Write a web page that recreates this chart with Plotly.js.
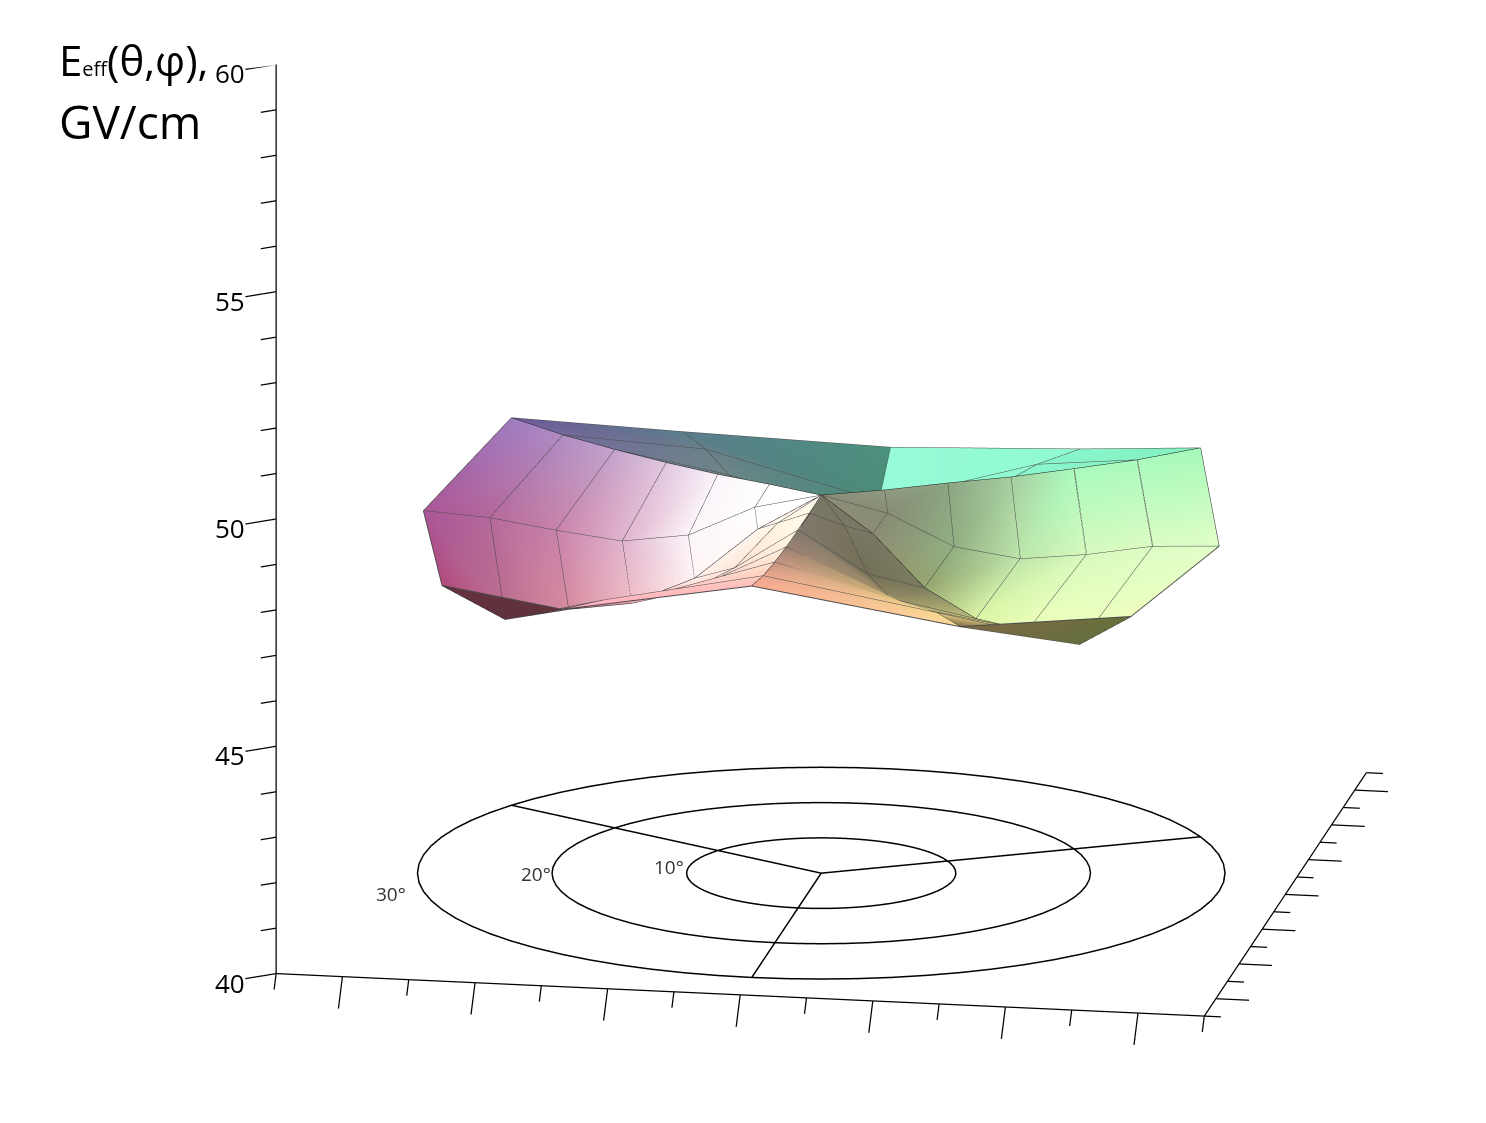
<!DOCTYPE html>
<html>
<head>
<meta charset="utf-8">
<script src="https://cdn.plot.ly/plotly-3.0.1.min.js"></script>
<style>
  html, body { margin: 0; padding: 0; background: #fff; }
  #plotly_graph { width: 1486px; height: 1123px; }
</style>
</head>
<body>
<div id="plotly_graph"></div>
<script>
// ************************************************************************
// DATA: Eeff (GV/cm), one list per phi spoke

const THETA_RINGS = [0, 5, 10, 15, 20, 25, 30]
const PHI_SPOKES = [0, 30, 60, 90, 120, 150, 180, 210, 240, 270, 300, 330]

const EEFF_000 = [48.31, 47.98, 47.31, 47.11, 47.27, 47.52, 47.59]
const EEFF_030 = [48.31, 48.29, 48.31, 48.31, 48.36, 48.42, 48.55]
const EEFF_060 = [48.31, 47.98, 47.31, 47.11, 47.27, 47.50, 47.54]
const EEFF_090 = [48.31, 47.71, 46.76, 46.34, 46.33, 46.27, 47.07]
const EEFF_120 = [48.31, 48.00, 47.31, 47.13, 47.30, 47.50, 47.52]
const EEFF_150 = [48.31, 48.30, 48.27, 48.28, 48.32, 48.39, 48.52]
const EEFF_180 = [48.31, 47.98, 47.30, 47.10, 47.27, 47.48, 47.57]
const EEFF_210 = [48.31, 47.70, 46.75, 46.34, 46.34, 46.25, 47.13]
const EEFF_240 = [48.31, 48.00, 47.31, 47.12, 47.28, 47.50, 47.59]
const EEFF_270 = [48.31, 48.30, 48.31, 48.32, 48.37, 48.45, 48.61]
const EEFF_300 = [48.31, 48.00, 47.31, 47.13, 47.30, 47.55, 47.61]
const EEFF_330 = [48.31, 47.71, 46.77, 46.34, 46.33, 46.28, 47.14]

const EEFF = [EEFF_000, EEFF_030, EEFF_060, EEFF_090, EEFF_120, EEFF_150,
              EEFF_180, EEFF_210, EEFF_240, EEFF_270, EEFF_300, EEFF_330]

const Z_TICK_LABELS = [40, 45, 50, 55, 60]
const GRID_RINGS = [10, 20, 30]
const GRID_SPOKES = [30, 150, 270]
const RIDGE_SPOKES = [30, 150, 210, 270, 330]
const RING_LABELS = ['10°', '20°', '30°']
const RING_LABEL_X = [-11.5, -20.8, -30.5]
const RING_LABEL_Y = [-0.1, -4.0, -11.2]

// ************************************************************************
// Colours of each sector: [start spoke, end spoke], centre to rim

const SECTOR_COLORS = [
    [['#8c8c78','#878c73','#91af82','#bee6aa','#d7fabe','#dcfcc4','#e1ffc8'],
     ['#828270','#919b82','#8ca582','#a5cda0','#aafabe','#aafabe','#a5fab9']],
    [['#8cf5ca','#8cf5ca','#8cf5ca','#8cf5ca','#8cf5ca','#86f2c2','#82f0be'],
     ['#88f5cc','#88f5cc','#88f5cc','#88f5cc','#88f5cc','#88f5cc','#88f5cc']],
    [['#90fad0','#90fad0','#90fad0','#90fad0','#90fad0','#90fad0','#90fad0'],
     ['#96fcd8','#96fcd8','#96fcd8','#96fcd8','#96fcd8','#96fcd8','#96fcd8']],
    [['#4b8c78','#4b8c78','#4b8c78','#4b8c78','#4b8c78','#4b8c78','#4b917d'],
     ['#559480','#5f9580','#6a8f80','#6e8a85','#6e8787','#69808a','#5a7d8c']],
    [['#559480','#5f9580','#6a8f80','#6e8a85','#6e8787','#69808a','#5a7d8c'],
     ['#559480','#5f9080','#6e8c8c','#758590','#787896','#73699a','#6e5a9b']],
    [['#ffffff','#ffffff','#faf5fa','#e1c8e1','#c3a5cd','#b08cc4','#a07cc0'],
     ['#ffffff','#ffffff','#fcf5fa','#e1b4cd','#c882aa','#b4699b','#aa5596']],
    [['#ffffff','#ffffff','#fcf5fa','#e1b4cd','#c882aa','#b4699b','#aa5596'],
     ['#ffffff','#fffdfb','#fff5f5','#f0bec8','#d78ca0','#be6e8c','#b24b7d']],
    [['#fff8f0','#fff8f0','#fff0ea','#f0a0b0','#a06070','#5f323c','#64323f'],
     ['#fff8e8','#fff8e8','#ffe6d8','#ffcdcd','#ffc3c8','#e8a0b0','#5f323c']],
    [['#fffaeb','#fff5e1','#ffe1d2','#ffcdcd','#ffc3c8','#ffb9c3','#ffaabe'],
     ['#fffaeb','#fffaeb','#fff8e6','#fff0dc','#ffe1cd','#ffcdbe','#ffbeb9']],
    [['#787864','#7d7869','#82786e','#9c8272','#c89682','#eca78f','#fbaa91'],
     ['#787864','#78735f','#737055','#a59068','#d7be78','#f5d68c','#ffdc9b']],
    [['#787864','#787864','#737055','#968c64','#d2be78','#e6c882','#7d6946'],
     ['#787864','#787864','#7d7d5f','#bec37d','#c8c87d','#646e3c','#696f3c']],
    [['#8c8c78','#8c8c73','#96a56e','#dcf5a5','#edffb9','#f0ffbc','#f0ffbe'],
     ['#8c8c78','#878c73','#91af82','#bee6aa','#d7fabe','#dcfcc4','#e1ffc8']]
]

// sectors that end on a valley spoke get the other cell diagonal
const END_ON_VALLEY = [60, 180, 300]

const AXIS_MIN = -35
const AXIS_MAX = 35
const Z_MIN = 40
const Z_MAX = 60

// the scene range is wider than the drawn axes, or the ticks get clipped
const SCENE_HALF = 45
// orthographic zoom goes through the aspect ratio, not through the eye distance
const ZOOM = 1.678


// ************************************************************************
// Surface

const polarX = (r, phi) => r * Math.cos(phi * Math.PI / 180)
const polarY = (r, phi) => r * Math.sin(phi * Math.PI / 180)

let mx = [], my = [], mz = [], mi = [], mj = [], mk = [], mcolor = []

PHI_SPOKES.forEach((phi, s) => {
    let next = (s + 1) % PHI_SPOKES.length
    let base = mx.length
    let ringCount = THETA_RINGS.length

    for (let side = 0; side < 2; side++) {
        let sp = side === 0 ? s : next
        THETA_RINGS.forEach((r, j) => {
            mx.push(polarX(r, PHI_SPOKES[sp]))
            my.push(polarY(r, PHI_SPOKES[sp]))
            mz.push(EEFF[sp][j])
            mcolor.push(SECTOR_COLORS[s][side][j])
        })
    }

    for (let j = 0; j < ringCount - 1; j++) {
        let a0 = base + j, a1 = base + j + 1
        let b0 = base + ringCount + j, b1 = base + ringCount + j + 1
        if (END_ON_VALLEY.includes(phi)) {
            mi.push(a0, a1); mj.push(a1, b1); mk.push(b0, b0)
        } else {
            mi.push(a0, a0); mj.push(a1, b1); mk.push(b1, b0)
        }
    }
})

let surface = {
    type: 'mesh3d',
    x: mx, y: my, z: mz, i: mi, j: mj, k: mk,
    vertexcolor: mcolor,
    flatshading: false,
    lighting: { ambient: 1, diffuse: 0, specular: 0, roughness: 1, fresnel: 0 },
    hoverinfo: 'skip',
    showscale: false
}


// ************************************************************************
// Wireframe

let wx = [], wy = [], wz = []
let rx = [], ry = [], rz = []

const addWire = (r1, phi1, z1, r2, phi2, z2) => {
    wx.push(polarX(r1, phi1), polarX(r2, phi2), null)
    wy.push(polarY(r1, phi1), polarY(r2, phi2), null)
    wz.push(z1, z2, null)
}

PHI_SPOKES.forEach((phi, s) => {
    let next = (s + 1) % PHI_SPOKES.length
    THETA_RINGS.forEach((r, j) => {
        if (j > 0) {
            addWire(THETA_RINGS[j - 1], phi, EEFF[s][j - 1], r, phi, EEFF[s][j])
            addWire(r, phi, EEFF[s][j], r, PHI_SPOKES[next], EEFF[next][j])
        }
    })
    // the sharp creases come out darker
    if (RIDGE_SPOKES.includes(phi)) {
        THETA_RINGS.forEach((r, j) => {
            rx.push(polarX(r, phi)); ry.push(polarY(r, phi)); rz.push(EEFF[s][j])
        })
        rx.push(null); ry.push(null); rz.push(null)
    }
})

// silhouette edges of the two folds in front
addWire(25, 210, EEFF_210[5], 30, 240, EEFF_240[6])
addWire(25, 330, EEFF_330[5], 30, 300, EEFF_300[6])

let wire = {
    type: 'scatter3d', mode: 'lines',
    x: wx, y: wy, z: wz,
    line: { color: 'rgb(75,75,75)', width: 2 },
    hoverinfo: 'skip', showlegend: false
}

let ridges = {
    type: 'scatter3d', mode: 'lines',
    x: rx, y: ry, z: rz,
    line: { color: 'rgb(30,30,30)', width: 2 },
    hoverinfo: 'skip', showlegend: false
}


// ************************************************************************
// Floor grid: rings and spokes at the bottom of the box

let gx = [], gy = [], gz = []

GRID_RINGS.forEach(r => {
    for (let a = 0; a <= 360; a += 5) {
        gx.push(polarX(r, a)); gy.push(polarY(r, a)); gz.push(Z_MIN)
    }
    gx.push(null); gy.push(null); gz.push(null)
})

GRID_SPOKES.forEach(phi => {
    gx.push(0, polarX(30, phi), null)
    gy.push(0, polarY(30, phi), null)
    gz.push(Z_MIN, Z_MIN, null)
})

let floorGrid = {
    type: 'scatter3d', mode: 'lines',
    x: gx, y: gy, z: gz,
    line: { color: '#000', width: 3 },
    hoverinfo: 'skip', showlegend: false
}


// ************************************************************************
// Axis lines and ticks, the scene's own axes are switched off

let ax = [AXIS_MIN, AXIS_MAX, AXIS_MAX, null, AXIS_MIN, AXIS_MIN]
let ay = [AXIS_MIN, AXIS_MIN, AXIS_MAX, null, AXIS_MIN, AXIS_MIN]
let az = [Z_MIN, Z_MIN, Z_MIN, null, Z_MIN, Z_MAX]

const addTick = (x, y, z, dx, dy) => {
    ax.push(x, x + dx, null)
    ay.push(y, y + dy, null)
    az.push(z, z, null)
}

for (let v = AXIS_MIN; v <= AXIS_MAX; v += 5) {
    let k = (v % 10 === 0) ? 1 : 0.5
    addTick(v, AXIS_MIN, Z_MIN, 1.26 * k, -8.95 * k)
    addTick(AXIS_MAX, v, Z_MIN, 2.5 * k, 0)
}

for (let v = Z_MIN; v <= Z_MAX; v += 1) {
    let k = (v % 5 === 0) ? 1 : 0.5
    addTick(AXIS_MIN, AXIS_MIN, v, -2 * k, -1.8 * k)
}

let axes = {
    type: 'scatter3d', mode: 'lines',
    x: ax, y: ay, z: az,
    line: { color: '#000', width: 2.5 },
    hoverinfo: 'skip', showlegend: false
}

let data = [surface, wire, ridges, floorGrid, axes]


// ************************************************************************
// Layout

const hiddenAxis = (range) => ({
    range: range,
    autorange: false,
    visible: false,
    showgrid: false,
    zeroline: false,
    showline: false,
    showticklabels: false,
    showbackground: false,
    showspikes: false,
    title: { text: '' }
})

const TEXT_FONT = '"Open Sans", "Noto Sans", sans-serif'

let sceneNotes = Z_TICK_LABELS.map(z => ({
    x: AXIS_MIN, y: AXIS_MIN, z: z,
    text: String(z),
    showarrow: false,
    xanchor: 'center', yanchor: 'middle',
    xshift: -46, yshift: -9,
    font: { family: TEXT_FONT, size: 26, color: '#000' }
})).concat(RING_LABELS.map((t, n) => ({
    x: RING_LABEL_X[n], y: RING_LABEL_Y[n], z: Z_MIN,
    text: t,
    showarrow: false,
    xanchor: 'center', yanchor: 'middle',
    font: { family: TEXT_FONT, size: 19, color: '#333' }
})))

let layout = {
    width: 1486,
    height: 1123,
    margin: { t: 0, r: 0, b: 0, l: 0 },
    paper_bgcolor: '#fff',
    showlegend: false,
    scene: {
        domain: { x: [0, 1], y: [0, 1] },
        aspectmode: 'manual',
        aspectratio: {
            x: ZOOM * 2 * SCENE_HALF / (AXIS_MAX - AXIS_MIN),
            y: ZOOM * 2 * SCENE_HALF / (AXIS_MAX - AXIS_MIN),
            z: ZOOM
        },
        camera: {
            projection: { type: 'orthographic' },
            // the box sits up and right of the page centre
            center: { x: -0.1258, y: -0.0897, z: -0.2457 },
            up: { x: 0, y: 0, z: 1 },
            eye: { x: 0.1739, y: -1.8060, z: 0.2277 }
        },
        xaxis: hiddenAxis([-SCENE_HALF, SCENE_HALF]),
        yaxis: hiddenAxis([-SCENE_HALF, SCENE_HALF]),
        zaxis: hiddenAxis([Z_MIN, Z_MAX]),
        annotations: sceneNotes
    },
    annotations: [
        {
            xref: 'paper', yref: 'paper', x: 57 / 1486, y: 1 - 60 / 1123,
            xanchor: 'left', yanchor: 'middle', showarrow: false,
            text: 'E<span style="font-size:20px">eff</span>(θ,φ),',
            font: { family: TEXT_FONT, size: 42, color: '#000' }
        },
        {
            xref: 'paper', yref: 'paper', x: 57 / 1486, y: 1 - 121 / 1123,
            xanchor: 'left', yanchor: 'middle', showarrow: false,
            text: 'GV/cm',
            font: { family: TEXT_FONT, size: 46, color: '#000' }
        }
    ]
}

const config = {
    displaylogo: false,
    displayModeBar: false
}

Plotly.newPlot('plotly_graph', data, layout, config)
</script>
</body>
</html>
